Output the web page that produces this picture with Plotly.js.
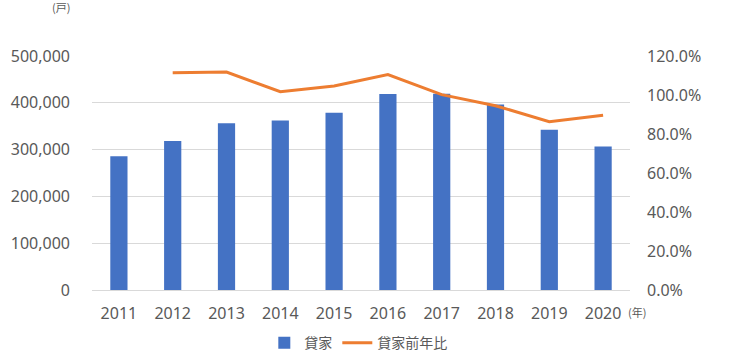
<!DOCTYPE html>
<html>
<head>
<meta charset="utf-8">
<script src="https://cdn.plot.ly/plotly-3.0.1.min.js"></script>
<style>html,body{margin:0;padding:0;background:#fff;}#chart{width:730px;height:362px;}</style>
</head>
<body>
<div id="chart"></div>
<script>
const years = ['2011','2012','2013','2014','2015','2016','2017','2018','2019','2020'];
const rentalUnits = [285832, 318521, 356263, 362191, 378718, 418543, 419397, 396404, 342289, 306753];
const ratioYears = ['2012','2013','2014','2015','2016','2017','2018','2019','2020'];
const ratioPct = [111.4, 111.8, 101.7, 104.6, 110.5, 100.2, 94.5, 86.3, 89.6];
const seriesNames = ['貸家', '貸家前年比'];

const txt = '#595959';
const fontFam = '"Noto Sans", "Noto Sans CJK JP", sans-serif';

const data = [
  {
    type: 'bar', x: years, y: rentalUnits, name: seriesNames[0],
    marker: {color: '#4472c4'}, hoverinfo: 'x+y'
  },
  {
    type: 'scatter', mode: 'lines', x: ratioYears, y: ratioPct, name: seriesNames[1],
    yaxis: 'y2', line: {color: '#ed7d31', width: 3}
  }
];

const layout = {
  width: 730, height: 362,
  margin: {l: 92, r: 100, t: 56, b: 72, autoexpand: false},
  paper_bgcolor: '#fff', plot_bgcolor: '#fff',
  font: {family: fontFam, color: txt, size: 16},
  bargap: 0.68,
  showlegend: true,
  legend: {
    orientation: 'h', x: 0.495, xanchor: 'center',
    yref: 'container', y: 0.052, yanchor: 'middle',
    font: {family: '"Noto Sans CJK JP", sans-serif', size: 14, color: txt},
    itemwidth: 30, traceorder: 'normal'
  },
  xaxis: {
    type: 'category', categoryorder: 'array', categoryarray: years,
    showline: false, ticks: '', showgrid: false, zeroline: false,
    tickfont: {size: 16, color: txt}, ticklabelstandoff: 12
  },
  yaxis: {
    range: [0, 500000], dtick: 100000, tickformat: ',',
    showgrid: true, gridcolor: '#d9d9d9', gridwidth: 1,
    zeroline: true, zerolinecolor: '#d9d9d9', zerolinewidth: 1,
    showline: false, ticks: '', tickfont: {size: 16, color: txt},
    ticklabelstandoff: 21
  },
  yaxis2: {
    overlaying: 'y', side: 'right', range: [0, 120], dtick: 20,
    tickformat: '.1f', ticksuffix: '%',
    showgrid: false, zeroline: false, showline: false, ticks: '',
    tickfont: {size: 16, color: txt}, ticklabelstandoff: 16
  },
  annotations: [
    {text: '(戸)', xref: 'paper', yref: 'paper', x: -0.058, y: 1.21, xanchor: 'center', yanchor: 'middle',
     showarrow: false, font: {family: '"Noto Sans CJK JP", sans-serif', size: 11, color: txt}},
    {text: '(年)', xref: 'paper', yref: 'paper', x: 0.993, y: -0.094, xanchor: 'left', yanchor: 'middle',
     showarrow: false, font: {family: '"Noto Sans CJK JP", sans-serif', size: 11, color: txt}}
  ]
};

Plotly.newPlot('chart', data, layout, {displayModeBar: false, staticPlot: true});
</script>
</body>
</html>
